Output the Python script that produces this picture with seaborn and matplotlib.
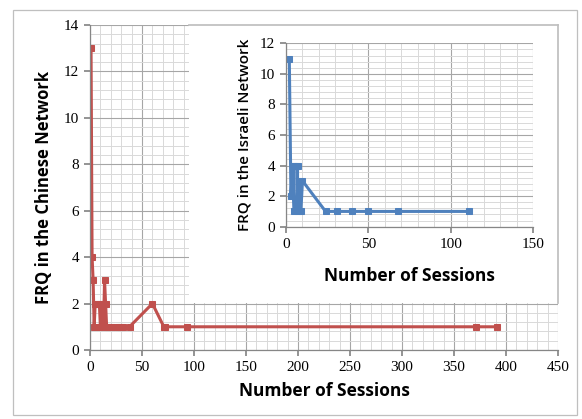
"""Session count vs FRQ, Chinese network with Israeli network inset."""

import matplotlib.pyplot as plt
import pandas as pd
import seaborn as sns
from matplotlib.patches import Rectangle
from matplotlib.ticker import MultipleLocator

sns.set_theme(style="white")
plt.rcParams["font.family"] = ["Liberation Serif", "DejaVu Serif"]

# Chinese network (main chart)
CN_SESSIONS = [1, 2, 3, 4, 5, 7, 9, 10, 11, 12, 13, 14, 15, 16, 18, 20, 25, 28, 30, 32, 38, 60, 71, 72, 93, 371, 391]
CN_FRQ = [13, 4, 3, 1, 2, 2, 2, 1, 2, 2, 1, 3, 2, 1, 1, 1, 1, 1, 1, 1, 1, 2, 1, 1, 1, 1, 1]

# Israeli network (inset)
IL_SESSIONS = [2, 3, 4, 5, 5, 6, 7, 7, 8, 9, 10, 24, 31, 40, 50, 68, 111]
IL_FRQ = [11, 2, 4, 1, 4, 4, 4, 1, 3, 1, 3, 1, 1, 1, 1, 1, 1]

RED = "#C0504D"
BLUE = "#4F81BD"
LABEL_FONT = ["Open Sans", "DejaVu Sans"]


def style_axes(ax, xmax, xmajor, ymax, ymajor):
    ax.set_xlim(0, xmax)
    ax.set_ylim(0, ymax)
    ax.xaxis.set_major_locator(MultipleLocator(xmajor))
    ax.xaxis.set_minor_locator(MultipleLocator(xmajor / 5))
    ax.yaxis.set_major_locator(MultipleLocator(ymajor))
    ax.yaxis.set_minor_locator(MultipleLocator(ymajor / 5))
    ax.grid(which="major", color="#a6a6a6", linewidth=0.8)
    ax.grid(which="minor", color="#d9d9d9", linewidth=0.7)
    ax.set_axisbelow(True)
    for side in ("top", "right"):
        ax.spines[side].set_visible(False)
    for side in ("left", "bottom"):
        ax.spines[side].set_color("#868686")
        ax.spines[side].set_linewidth(0.9)
    ax.tick_params(which="major", direction="out", length=4, color="#868686",
                   labelsize=11, labelcolor="black", pad=4, left=True, bottom=True)
    ax.tick_params(which="minor", length=0)


fig = plt.figure(figsize=(5.82, 4.19), dpi=100)
fig.patch.set_facecolor("white")
fig.add_artist(Rectangle((13 / 582, 4 / 419), 564 / 582, 405 / 419, transform=fig.transFigure,
                         fill=False, edgecolor="#bfbfbf", linewidth=0.9))

ax = fig.add_axes([90 / 582, 1 - 350 / 419, 468 / 582, 325 / 419])
main_df = pd.DataFrame({"sessions": CN_SESSIONS, "frq": CN_FRQ})
sns.lineplot(data=main_df, x="sessions", y="frq", ax=ax, sort=False, estimator=None,
             color=RED, linewidth=2.2, marker="s", markersize=4.3, markeredgecolor=RED)
style_axes(ax, 450, 50, 14, 2)
ax.set_xlabel("Number of Sessions", fontsize=12.5, fontweight="bold", family=LABEL_FONT,
              color="black", labelpad=6)
ax.set_ylabel("FRQ in the Chinese Network", fontsize=12, fontweight="bold", family=LABEL_FONT,
              color="black", labelpad=8)

# white panel behind the inset
panel = fig.add_axes([189 / 582, 1 - 303 / 419, 369 / 582, 278 / 419])
panel.set_facecolor("white")
panel.set_xticks([])
panel.set_yticks([])
for side, sp in panel.spines.items():
    sp.set_visible(side in ("top", "right"))
    sp.set_color("#bfbfbf")

inset = fig.add_axes([286 / 582, 1 - 226.7 / 419, 247.3 / 582, 183.4 / 419])
inset_df = pd.DataFrame({"sessions": IL_SESSIONS, "frq": IL_FRQ})
sns.lineplot(data=inset_df, x="sessions", y="frq", ax=inset, sort=False, estimator=None,
             color=BLUE, linewidth=2.2, marker="s", markersize=4.3, markeredgecolor=BLUE)
style_axes(inset, 150, 50, 12, 2)
inset.set_xlabel("Number of Sessions", fontsize=12.5, fontweight="bold", family=LABEL_FONT,
                 color="black", labelpad=12)
inset.set_ylabel("FRQ in the Israeli Network", fontsize=11, fontweight="semibold", family=LABEL_FONT,
                 color="black", labelpad=6)

fig.savefig("out.png", dpi=100)
plt.close(fig)
